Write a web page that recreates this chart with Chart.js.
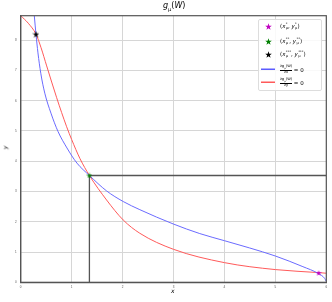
<!DOCTYPE html>
<html>
<head>
<meta charset="utf-8">
<script src="https://cdn.jsdelivr.net/npm/chart.js@4.4.0/dist/chart.umd.min.js"></script>
<style>
  body { margin: 0; background: #fff; }
  #wrap { position: relative; width: 332px; height: 302px; font-family: 'DejaVu Sans', sans-serif; }
  .m { font-style: italic; }
  .lbl { position: absolute; color: #000; white-space: nowrap; }
  #legend { position: absolute; left: 258px; top: 19px; width: 64px; height: 72px; box-sizing: border-box;
            border: 1px solid #ddd; border-radius: 2px; background: rgba(255,255,255,0.85); font-size: 5.5px; }
  .row { position: absolute; left: 21px; white-space: nowrap; line-height: 1; }
  .ss { display: inline-block; vertical-align: middle; font-size: 3.6px; line-height: 1; margin-left: 0.3px; }
  .ss span { display: block; }
  .fr { display: inline-block; vertical-align: middle; font-size: 3.6px; text-align: center; line-height: 1.1; }
  .fr .den { display: block; border-top: 0.5px solid #000; }
  .mk { position: absolute; left: 6px; }
  .sw { position: absolute; left: 1px; z-index: 2; }
</style>
</head>
<body>
<div id="wrap">
  <canvas id="c"></canvas>
  <div class="lbl" style="left:163px;top:1px;font-size:8px;"><span class="m">g</span><sub style="font-size:5px">μ</sub>(<span class="m">W</span>)</div>
  <div class="lbl m" style="left:171px;top:287px;font-size:6px;">x</div>
  <div class="lbl m" style="left:3px;top:144px;font-size:6px;transform:rotate(-90deg);">y</div>
  <div id="legend">
    <canvas class="mk" id="lg1" width="7" height="7" style="top:3px"></canvas>
    <div class="row" style="top:3px">(<span class="m">x</span><span class="ss"><span>*</span><span>μ</span></span>, <span class="m">y</span><span class="ss"><span>*</span><span>μ</span></span>)</div>
    <canvas class="mk" id="lg2" width="7" height="7" style="top:18px"></canvas>
    <div class="row" style="top:18px">(<span class="m">x</span><span class="ss"><span>**</span><span>μ</span></span>, <span class="m">y</span><span class="ss"><span>**</span><span>μ</span></span>)</div>
    <canvas class="mk" id="lg3" width="7" height="7" style="top:31px"></canvas>
    <div class="row" style="top:31px">(<span class="m">x</span><span class="ss"><span>***</span><span>μ</span></span>, <span class="m">y</span><span class="ss"><span>***</span><span>μ</span></span>)</div>
    <div class="row" style="top:45px"><span class="fr"><span>∂g<sub style="font-size:2.5px">μ</sub>(W)</span><span class="den">∂x</span></span> = 0</div>
    <div class="row" style="top:58px"><span class="fr"><span>∂g<sub style="font-size:2.5px">μ</sub>(W)</span><span class="den">∂y</span></span> = 0</div>
    <canvas class="sw" id="sw1" width="16" height="3" style="top:48px"></canvas>
    <canvas class="sw" id="sw2" width="16" height="3" style="top:61px"></canvas>
  </div>
</div>
<script>
// curve dg/dx = 0 (blue)
const blueX = [0.267, 0.300, 0.339, 0.394, 0.473, 0.594, 0.731, 0.908, 1.104, 1.349, 1.686, 2.012, 2.339, 2.992, 3.516, 4.0, 4.496, 5.0, 5.541, 5.835, 5.967, 6.0];
const blueY = [8.81, 8.20, 7.58, 6.91, 6.25, 5.59, 4.99, 4.44, 3.94, 3.53, 3.02, 2.67, 2.40, 1.93, 1.61, 1.375, 1.134, 0.869, 0.516, 0.298, 0.132, 0.03];
// curve dg/dy = 0 (red)
const redX = [0.0, 0.149, 0.300, 0.400, 0.510, 0.706, 0.902, 1.0, 1.163, 1.349, 1.686, 2.012, 2.339, 3.0, 4.0, 5.0, 5.85, 6.0];
const redY = [8.81, 8.56, 8.20, 7.75, 7.15, 6.10, 5.14, 4.72, 4.09, 3.53, 2.72, 2.06, 1.62, 1.09, 0.65, 0.42, 0.32, 0.30];
// the three stationary points
const pt1 = [5.85, 0.31];   // magenta
const pt2 = [1.349, 3.53];  // green
const pt3 = [0.30, 8.20];   // black
const xTicks = [0, 1, 2, 3, 4, 5, 6];
const yTicks = [0, 1, 2, 3, 4, 5, 6, 7, 8];

const BLUE = '#6b6bff';
const RED = '#ff5a5a';

function drawStar(cv, color) {
  const ctx = cv.getContext('2d');
  const s = cv.width, cx = s / 2, cy = s / 2 + 0.3, R = s / 2, r = R * 0.4;
  ctx.beginPath();
  for (let i = 0; i < 10; i++) {
    const a = -Math.PI / 2 + i * Math.PI / 5;
    const rr = i % 2 ? r : R;
    ctx.lineTo(cx + rr * Math.cos(a), cy + rr * Math.sin(a));
  }
  ctx.closePath();
  ctx.fillStyle = color;
  ctx.fill();
  return cv;
}
function starImg(color, size) {
  const cv = document.createElement('canvas');
  cv.width = size; cv.height = size;
  return drawStar(cv, color);
}
function drawSwatch(id, color) {
  const ctx = document.getElementById(id).getContext('2d');
  ctx.fillStyle = color;
  ctx.fillRect(1, 0.5, 14, 1.5);
}
drawStar(document.getElementById('lg1'), '#c000c0');
drawStar(document.getElementById('lg2'), '#008000');
drawStar(document.getElementById('lg3'), '#000');
drawSwatch('sw1', '#5c5cff');
drawSwatch('sw2', RED);

const toPts = (xs, ys) => xs.map((x, i) => ({ x, y: ys[i] }));

const frame = {
  id: 'frame',
  afterDatasetsDraw(chart) {
    const { ctx, chartArea: a } = chart;
    ctx.save();
    ctx.strokeStyle = '#555';
    ctx.lineWidth = 1.2;
    ctx.strokeRect(a.left, a.top, a.right - a.left, a.bottom - a.top);
    ctx.restore();
  }
};

new Chart(document.getElementById('c'), {
  type: 'scatter',
  data: {
    datasets: [
      { data: [{ x: pt2[0], y: 0 }, { x: pt2[0], y: pt2[1] }, { x: 6, y: pt2[1] }],
        showLine: true, borderColor: '#555', borderWidth: 1.3, pointRadius: 0, order: 3 },
      { data: toPts(blueX, blueY), showLine: true, borderColor: BLUE, borderWidth: 1,
        pointRadius: 0, cubicInterpolationMode: 'monotone', order: 2 },
      { data: toPts(redX, redY), showLine: true, borderColor: RED, borderWidth: 1,
        pointRadius: 0, cubicInterpolationMode: 'monotone', order: 2 },
      { data: [{ x: pt1[0], y: pt1[1] }], pointStyle: starImg('#c000c0', 6), order: 1 },
      { data: [{ x: pt2[0], y: pt2[1] }], pointStyle: starImg('#008000', 6), order: 1 },
      { data: [{ x: pt3[0], y: pt3[1] }], pointStyle: starImg('#000', 7), order: 1 },
    ]
  },
  options: {
    responsive: true,
    maintainAspectRatio: false,
    animation: false,
    layout: { padding: { top: 15.7, right: 5.7, left: 0, bottom: 0 } },
    plugins: { legend: { display: false }, tooltip: { enabled: false } },
    scales: {
      x: {
        type: 'linear', min: 0, max: 6,
        afterFit: s => { s.height = 19.7; },
        afterBuildTicks: s => { s.ticks = xTicks.map(v => ({ value: v })); },
        ticks: { font: { size: 3 }, color: '#555', padding: 3, maxRotation: 0 },
        grid: { color: '#d6d6d6', drawTicks: false },
        border: { color: '#555', width: 1.2 },
      },
      y: {
        type: 'linear', min: 0, max: 8.81,
        afterFit: s => { s.width = 20.7; },
        afterBuildTicks: s => { s.ticks = yTicks.map(v => ({ value: v })); },
        ticks: { font: { size: 3 }, color: '#555', padding: 4 },
        grid: { color: '#d6d6d6', drawTicks: false },
        border: { color: '#555', width: 1.2 },
      }
    }
  },
  plugins: [frame]
});
</script>
</body>
</html>
